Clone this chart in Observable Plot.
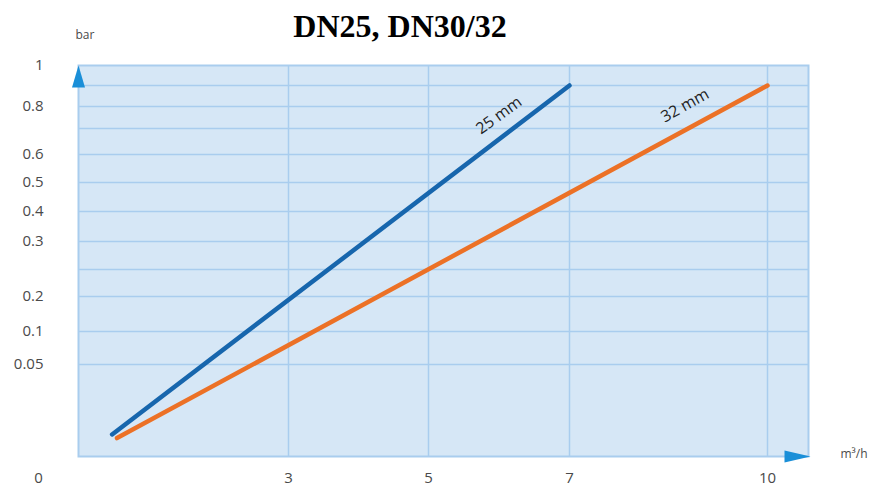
<!DOCTYPE html>
<html>
<head>
<meta charset="utf-8">
<script src="https://cdn.jsdelivr.net/npm/d3@7"></script>
<script src="https://cdn.jsdelivr.net/npm/@observablehq/plot@0.6"></script>
<style>
  body { margin: 0; background: #fff; width: 877px; height: 490px; overflow: hidden; }
  #title { height: 50px; width: 800px; text-align: center; font: bold 32px "Liberation Serif", "Times New Roman", serif;
           line-height: 32px; padding-top: 10px; box-sizing: border-box; color: #000; }
  #chart svg { display: block; }
</style>
</head>
<body>
<div id="title">DN25, DN30/32</div>
<div id="chart"></div>
<script>
// ---- data ----
const seriesNames = ["25 mm", "32 mm"];
const flowStart = [0.48, 0.55];     // m³/h
const flowEnd = [7, 10];
const dropStart = [0.012, 0.010];   // bar
const dropEnd = [0.9, 0.9];
const seriesColors = ["#1766ad", "#ec7126"];
const labelFlow = [6, 8.75];
const labelDrop = [0.658, 0.696];
const labelAngle = [-36, -29];

const xTickValues = [3, 5, 7, 10];
const yTickValues = [0.05, 0.1, 0.2, 0.3, 0.4, 0.5, 0.6, 0.8, 1];
const yGridValues = [0.05, 0.1, 0.2, 0.25, 0.3, 0.4, 0.5, 0.6, 0.7, 0.8, 0.9];
const xGridValues = [3, 5, 7, 10];

// non-uniform (piecewise) scale breakpoints of the printed chart
const xBreaks = [0, 3, 5, 7, 10, 10.6];
const xBreakPx = [78, 288, 428, 569, 767, 808];
const yBreaks = [0, 0.05, 0.1, 0.2, 0.25, 0.3, 0.4, 0.5, 0.6, 0.7, 0.8, 0.9, 1];
const yBreakPx = [406, 314, 281, 246, 219, 191, 161, 132, 104, 78, 56, 35, 15];

// ---- tables ----
const lines = seriesNames.flatMap((name, i) => [
  {name, flow: flowStart[i], drop: dropStart[i]},
  {name, flow: flowEnd[i], drop: dropEnd[i]}
]);
const labels = seriesNames.map((name, i) => ({name, flow: labelFlow[i], drop: labelDrop[i], angle: labelAngle[i]}));

const arrowUp = {draw(ctx) { ctx.moveTo(0, 0); ctx.lineTo(6.5, 22); ctx.lineTo(-6.5, 22); ctx.closePath(); }};
const arrowRight = {draw(ctx) { ctx.moveTo(0, 0); ctx.lineTo(-26, 6); ctx.lineTo(-26, -6); ctx.closePath(); }};

const gridColor = "#a9cdee";
const arrowColor = "#1a8fd8";
const tickColor = "#4a4a4a";

const chart = Plot.plot({
  width: 877,
  height: 440,
  marginLeft: 78,
  marginRight: 69,
  marginTop: 15,
  marginBottom: 34,
  style: {fontFamily: "'Open Sans', sans-serif", fontSize: "15px", color: tickColor, background: "#fff", overflow: "visible"},
  x: {type: "linear", domain: xBreaks, range: xBreakPx},
  y: {type: "linear", domain: yBreaks, range: yBreakPx},
  color: {domain: seriesNames, range: seriesColors},
  marks: [
    Plot.frame({fill: "#d6e7f6", stroke: null}),
    Plot.gridY(yGridValues, {stroke: gridColor, strokeOpacity: 1, strokeWidth: 1.5}),
    Plot.gridX(xGridValues, {stroke: gridColor, strokeOpacity: 1, strokeWidth: 1.5}),
    Plot.frame({stroke: gridColor, strokeWidth: 2}),
    Plot.axisX(xTickValues, {tickSize: 0, tickPadding: 16, fill: tickColor, label: null, fontSize: 15}),
    Plot.axisY(yTickValues, {tickSize: 0, tickPadding: 35, fill: tickColor, label: null, fontSize: 15, tickFormat: d => String(d)}),
    Plot.text(["0"], {x: 0, y: 0, dx: -40, dy: 22, fill: tickColor, fontSize: 15}),
    Plot.text(["bar"], {frameAnchor: "top-left", dx: -3, dy: -35, fill: tickColor, fontSize: 12}),
    Plot.text(["m³/h"], {frameAnchor: "bottom-right", dx: 59, dy: 1, fill: tickColor, fontSize: 12}),
    Plot.line(lines, {x: "flow", y: "drop", z: "name", stroke: "name", strokeWidth: 4.5}),
    Plot.text(labels, {x: "flow", y: "drop", text: "name", rotate: "angle", dy: -24, fill: "#222", fontSize: 16}),
    Plot.dot([0], {x: 0, y: 1, symbol: arrowUp, fill: arrowColor, stroke: null}),
    Plot.dot([0], {x: 10.6, y: 0, symbol: arrowRight, fill: arrowColor, stroke: null, dx: 2})
  ]
});
document.getElementById("chart").appendChild(chart);
</script>
</body>
</html>
